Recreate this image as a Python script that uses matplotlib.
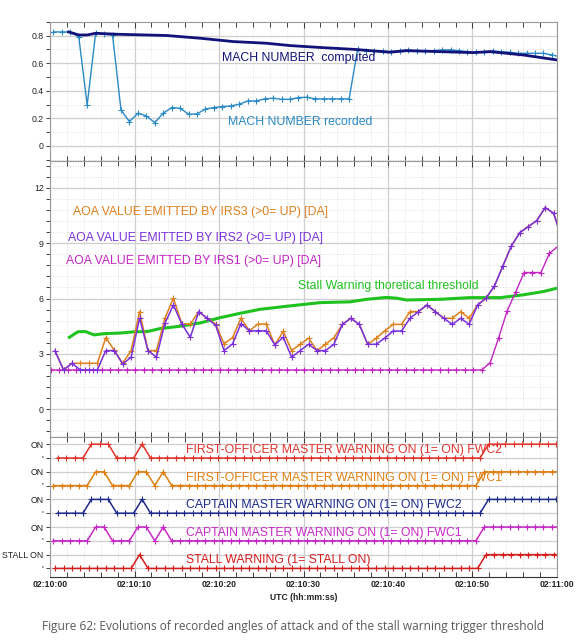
import numpy as np
import matplotlib
matplotlib.use("Agg")
import matplotlib.pyplot as plt
from matplotlib.ticker import MultipleLocator, FuncFormatter, FixedLocator

plt.rcParams['font.family'] = ['Liberation Sans', 'DejaVu Sans']

# ---- data (seconds after 02:10:00) ----
mach_rec_t0 = 0.4
mach_rec = [0.826, 0.826, 0.826, 0.792, 0.297, 0.816, 0.809, 0.804, 0.261, 0.176,
            0.237, 0.217, 0.169, 0.237, 0.278, 0.273, 0.230, 0.232, 0.268, 0.278,
            0.285, 0.290, 0.302, 0.326, 0.326, 0.341, 0.346, 0.338, 0.338, 0.350,
            0.353, 0.341, 0.341, 0.341, 0.341, 0.341, 0.700, 0.690, 0.688, 0.688,
            0.683, 0.690, 0.696, 0.690, 0.690, 0.690, 0.696, 0.696, 0.690, 0.683,
            0.679, 0.683, 0.688, 0.683, 0.679, 0.671, 0.671, 0.671, 0.671, 0.659,
            0.645]

mach_comp_t = [2.2, 3.4, 4.4, 5.4, 8, 13.8, 17.8, 21.7, 25.6, 28.4, 32.3, 35.9,
               40.2, 42.2, 46.2, 50.1, 52.1, 56, 60]
mach_comp = [0.826, 0.804, 0.804, 0.816, 0.809, 0.80, 0.78, 0.756, 0.744, 0.727,
             0.712, 0.70, 0.679, 0.69, 0.683, 0.676, 0.683, 0.659, 0.623]

aoa_t0 = 0.6
irs3 = [3.16, 2.13, 2.49, 2.49, 2.49, 2.49, 3.88, 3.20, 2.49, 3.18,
        5.29, 3.18, 3.18, 4.93, 6.02, 4.62, 4.62, 5.29, 4.93, 4.62,
        3.55, 3.88, 4.93, 4.25, 4.62, 4.62, 3.49, 4.22, 3.18, 3.52,
        3.85, 3.18, 3.52, 3.88, 4.60, 4.93, 4.60, 3.52, 3.85, 4.24,
        4.60, 4.60, 5.29, 5.29, 5.65, 5.29, 4.93, 4.93, 5.29, 4.93,
        5.65, 6.02, 6.68, 7.77, 8.85, 9.57, 9.90, 10.22, 10.93, 10.62,
        9.30]
irs2 = [3.16, 2.13, 2.49, 2.13, 2.13, 2.13, 3.18, 3.18, 2.45, 2.82,
        4.93, 3.18, 2.82, 4.66, 5.65, 4.62, 3.90, 5.29, 4.93, 4.55,
        3.18, 3.54, 4.64, 4.25, 4.25, 4.25, 3.49, 3.90, 2.82, 3.18,
        3.52, 3.18, 3.18, 3.52, 4.60, 4.93, 4.60, 3.52, 3.52, 3.85,
        4.24, 4.24, 4.93, 5.29, 5.65, 5.29, 4.93, 4.60, 4.93, 4.60,
        5.65, 6.02, 6.68, 7.77, 8.85, 9.57, 9.90, 10.22, 10.93, 10.62,
        9.20]
irs1_t0 = 0.1
irs1 = [2.13] * 52 + [2.53, 3.88, 5.33, 6.34, 7.41, 7.41, 7.41, 8.45, 8.82]

thr_t = [2.3, 3.3, 4.2, 5.2, 6.5, 8.3, 10, 11.5, 13, 15.4, 17.8, 20.1, 22.5, 24.9,
         28, 32, 35.5, 37.5, 39.8, 41, 42.2, 46.2, 49.7, 53.3, 56, 58.4, 60]
thr = [3.9, 4.2, 4.21, 4.03, 4.1, 4.13, 4.2, 4.21, 4.37, 4.5, 4.68, 4.96, 5.2, 5.42,
       5.58, 5.78, 5.82, 5.96, 6.06, 6.02, 5.92, 5.96, 6.05, 6.05, 6.2, 6.38, 6.56]

# discrete warnings, one sample per second (0 = off, 1 = on)
fo_fwc2_t0 = 0.9
fo_fwc2 = [0, 0, 0, 0, 1, 1, 1, 0, 0, 0,
           1, 0, 0, 0, 0, 0, 0, 0, 0, 0,
           0, 0, 0, 0, 0, 0, 0, 0, 0, 0,
           0, 0, 0, 0, 0, 0, 0, 0, 0, 0,
           0, 0, 0, 0, 0, 0, 0, 0, 0, 0,
           0, 1, 1, 1, 1, 1, 1, 1, 1, 1, 1]
fo_fwc1_t0 = 0.4
fo_fwc1 = [0, 0, 0, 0, 0, 1, 1, 0, 0, 0,
           1, 1, 0, 1, 0, 0, 0, 0, 0, 0,
           0, 0, 0, 0, 0, 0, 0, 0, 0, 0,
           0, 0, 0, 0, 0, 0, 0, 0, 0, 0,
           0, 0, 0, 0, 0, 0, 0, 0, 0, 0,
           0, 1, 1, 1, 1, 1, 1, 1, 1, 1, 1]
capt_fwc2_t0 = 0.9
capt_fwc2 = list(fo_fwc2)
capt_fwc1_t0 = 0.4
capt_fwc1 = list(fo_fwc1)
stall_t0 = 0.6
stall = [0, 0, 0, 0, 0, 0, 0, 0, 0, 0,
         1, 0, 0, 0, 0, 0, 0, 0, 0, 0,
         0, 0, 0, 0, 0, 0, 0, 0, 0, 0,
         0, 0, 0, 0, 0, 0, 0, 0, 0, 0,
         0, 0, 0, 0, 0, 0, 0, 0, 0, 0,
         0, 1, 1, 1, 1, 1, 1, 1, 1, 1, 1]

xtick_labels = ["02:10:00", "02:10:10", "02:10:20", "02:10:30", "02:10:40",
                "02:10:50", "02:11:00"]

# colours
c_comp = "#12127a"
c_rec = "#2a8ac6"
c_irs3 = "#e0801c"
c_irs2 = "#7a30dc"
c_irs1 = "#c424c4"
c_thr = "#1fc21f"
c_fo2 = "#e0342c"
c_fo1 = "#e07f10"
c_cp2 = "#1c2a8c"
c_cp1 = "#c828c8"
c_stall = "#d61e1e"

FS = 8.8


def t_of(t0, vals):
    return t0 + np.arange(len(vals))


W, H = 587, 640
fig = plt.figure(figsize=(W / 100, H / 100), dpi=100)


def px_axes(top, bottom):
    return fig.add_axes([50 / W, 1 - bottom / H, 507 / W, (bottom - top) / H])


ax1 = px_axes(21.7, 160.7)
ax2 = px_axes(160.7, 437.3)
ax3 = px_axes(437.3, 576.7)

for ax in (ax1, ax2, ax3):
    ax.set_xlim(0, 60)
    ax.xaxis.set_major_locator(MultipleLocator(10))
    ax.xaxis.set_minor_locator(MultipleLocator(2))
    ax.grid(which='major', color='#cfcfcf', lw=0.9, ls='-')
    ax.grid(which='minor', color='#d8d8d8', lw=0.6, ls=(0, (1, 2)))
    ax.tick_params(which='both', direction='in', top=True, bottom=True,
                   labelsize=6.3, colors='#222222', width=0.6)
    ax.tick_params(which='major', length=4)
    ax.tick_params(which='minor', length=3.5)
    ax.tick_params(axis='y', which='both', direction='out', right=False,
                   length=3, pad=1.5)
    ax.set_axisbelow(True)
    for s in ax.spines.values():
        s.set_color('#9a9a9a')
        s.set_linewidth(0.8)
    ax.spines['bottom'].set_color('#333333')

ax1.tick_params(labelbottom=False)
ax2.tick_params(labelbottom=False)

# ---- top: mach ----
ax1.plot(t_of(mach_rec_t0, mach_rec), mach_rec, color=c_rec, lw=1.0,
         marker='+', ms=4, mew=0.8)
ax1.plot(mach_comp_t, mach_comp, color=c_comp, lw=2.0)
ax1.set_ylim(-0.107, 0.9)
ax1.yaxis.set_major_locator(FixedLocator([0, 0.2, 0.4, 0.6, 0.8]))
ax1.yaxis.set_minor_locator(MultipleLocator(0.1))
ax1.yaxis.set_major_formatter(FuncFormatter(lambda v, p: "0" if abs(v) < 1e-9 else "%.1f" % v))
ax1.text(20.3, 0.64, "MACH NUMBER  computed", color=c_comp, fontsize=FS, va='center')
ax1.text(21.1, 0.17, "MACH NUMBER recorded", color=c_rec, fontsize=FS, va='center')

# ---- middle: angle of attack ----
ax2.plot(thr_t, thr, color=c_thr, lw=2.2)
ax2.plot(t_of(irs1_t0, irs1), irs1, color=c_irs1, lw=1.0, marker='+', ms=4, mew=0.8)
ax2.plot(t_of(aoa_t0, irs3), irs3, color=c_irs3, lw=1.1, marker='+', ms=4, mew=0.8)
ax2.plot(t_of(aoa_t0, irs2), irs2, color=c_irs2, lw=1.1, marker='+', ms=4, mew=0.8)
ax2.set_ylim(-1.52, 13.47)
ax2.yaxis.set_major_locator(FixedLocator([0, 3, 6, 9, 12]))
ax2.yaxis.set_minor_locator(MultipleLocator(0.6))
ax2.text(2.75, 10.7, "AOA VALUE EMITTED BY IRS3 (>0= UP) [DA]", color=c_irs3, fontsize=FS, va='center')
ax2.text(2.1, 9.3, "AOA VALUE EMITTED BY IRS2 (>0= UP) [DA]", color=c_irs2, fontsize=FS, va='center')
ax2.text(1.85, 8.05, "AOA VALUE EMITTED BY IRS1 (>0= UP) [DA]", color=c_irs1, fontsize=FS, va='center')
ax2.text(29.4, 6.68, "Stall Warning thoretical threshold", color=c_thr, fontsize=FS, va='center')

# ---- bottom: warnings ----
signals = [
    (fo_fwc2_t0, fo_fwc2, 8, c_fo2, "FIRST-OFFICER MASTER WARNING ON (1= ON) FWC2"),
    (fo_fwc1_t0, fo_fwc1, 6, c_fo1, "FIRST-OFFICER MASTER WARNING ON (1= ON) FWC1"),
    (capt_fwc2_t0, capt_fwc2, 4, c_cp2, "CAPTAIN MASTER WARNING ON (1= ON) FWC2"),
    (capt_fwc1_t0, capt_fwc1, 2, c_cp1, "CAPTAIN MASTER WARNING ON (1= ON) FWC1"),
    (stall_t0, stall, 0, c_stall, "STALL WARNING (1= STALL ON)"),
]
for t0, vals, base, col, label in signals:
    ax3.plot(t_of(t0, vals), np.array(vals) + base, color=col, lw=1.1,
             marker='+', ms=4, mew=0.8)
    ax3.text(16.1, base + 0.58, label, color=col, fontsize=FS, va='center')

ax3.set_ylim(-0.6, 9.5)
ax3.yaxis.set_major_locator(FixedLocator(range(10)))
ax3.yaxis.set_minor_locator(FixedLocator([]))
ax3.set_yticklabels(["'", "STALL ON", "'", "ON", "'", "ON", "'", "ON", "'", "ON"])
ax3.xaxis.set_major_locator(FixedLocator([0, 10, 20, 30, 40, 50, 60]))
ax3.set_xticklabels(xtick_labels, fontweight='bold', fontsize=6.2)
ax3.tick_params(axis='x', pad=2.5)
ax3.set_xlabel("UTC (hh:mm:ss)", fontsize=6.2, fontweight='bold', labelpad=2.5, color='#222222')

fig.text(0.5, 1 - 626.5 / H,
         "Figure 62: Evolutions of recorded angles of attack and of the stall warning trigger threshold",
         ha='center', va='center', fontsize=8.6, color='#5a5a5a', family=['Open Sans', 'DejaVu Sans'])

fig.savefig("out.png", dpi=100)
